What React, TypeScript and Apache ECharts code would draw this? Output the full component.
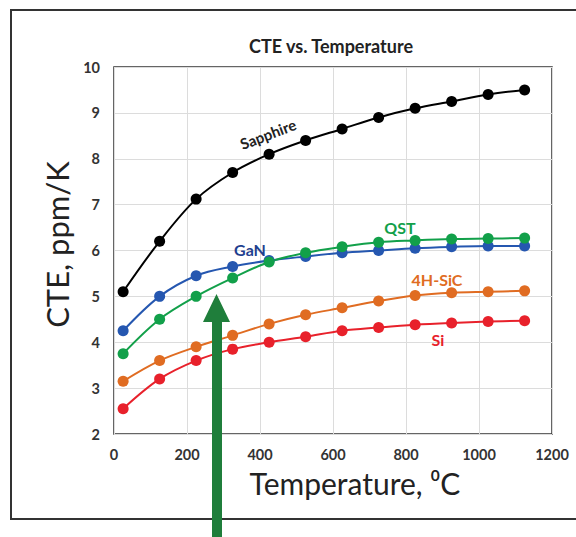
import React, { useEffect, useRef } from "react";
import * as echarts from "echarts";

const temperatures = [25, 125, 225, 325, 425, 525, 625, 725, 825, 925, 1025, 1125];
const sapphire = [5.1, 6.2, 7.12, 7.7, 8.1, 8.4, 8.65, 8.9, 9.1, 9.25, 9.4, 9.5];
const gan = [4.25, 5.0, 5.45, 5.65, 5.78, 5.87, 5.95, 6.0, 6.05, 6.08, 6.1, 6.1];
const qst = [3.75, 4.5, 5.0, 5.4, 5.75, 5.95, 6.08, 6.18, 6.22, 6.25, 6.26, 6.27];
const sic4h = [3.15, 3.6, 3.9, 4.15, 4.4, 4.6, 4.75, 4.9, 5.02, 5.08, 5.1, 5.12];
const si = [2.55, 3.2, 3.6, 3.85, 4.0, 4.12, 4.25, 4.32, 4.38, 4.42, 4.45, 4.47];

const seriesNames = ["Sapphire", "GaN", "QST", "4H-SiC", "Si"];
const seriesValues = [sapphire, gan, qst, sic4h, si];
const seriesColors = ["#000000", "#2557b0", "#12a04a", "#e06c22", "#e8212b"];
const labelColors = ["#222222", "#1f3f8f", "#12a04a", "#e06c22", "#e8212b"];

const FONT = "Lato, 'Noto Sans', sans-serif";

export default function App() {
  const ref = useRef<HTMLDivElement>(null);
  useEffect(() => {
    if (!ref.current) return;
    const chart = echarts.init(ref.current, undefined, { renderer: "svg" });
    const series = seriesNames.map((name, i) => ({
      name,
      type: "line",
      data: temperatures.map((t, j) => [t, seriesValues[i][j]]),
      smooth: 0.35,
      symbol: "circle",
      symbolSize: 11,
      lineStyle: { color: seriesColors[i], width: 2 },
      itemStyle: { color: seriesColors[i] },
      z: 3,
    }));
    const labelText = (text: string, x: number, y: number, color: string, rotation = 0, size = 15) => ({
      type: "text",
      x,
      y,
      rotation,
      z: 10,
      style: {
        text,
        fill: color,
        font: `bold ${size}px ${FONT}`,
        align: "center",
        verticalAlign: "middle",
      },
    });
    chart.setOption({
      animation: false,
      backgroundColor: "#ffffff",
      title: {
        text: "CTE vs. Temperature",
        left: 326,
        top: 32,
        textAlign: "center",
        textStyle: { fontFamily: FONT, fontWeight: "bold", fontSize: 18, color: "#222" },
      },
      grid: {
        left: 114,
        right: 24,
        top: 67,
        bottom: 103,
        show: true,
        borderColor: "#333",
        borderWidth: 1.5,
      },
      xAxis: {
        type: "value",
        min: 0,
        max: 1200,
        interval: 200,
        name: "Temperature, \u2070C",
        nameLocation: "middle",
        nameGap: 34,
        nameTextStyle: {
          fontFamily: FONT,
          fontSize: 30,
          color: "#222",
          verticalAlign: "top",
          padding: [0, 0, 0, 44],
        },
        axisLine: { show: false },
        axisTick: { show: false },
        axisLabel: {
          margin: 13,
          fontFamily: FONT,
          fontWeight: "bold",
          fontSize: 14.5,
          color: "#333",
          formatter: (v: number) => String(v),
        },
        splitLine: { show: true, lineStyle: { color: "#dcdcdc", width: 1 } },
      },
      yAxis: {
        type: "value",
        min: 2,
        max: 10,
        interval: 1,
        name: "CTE, ppm/K",
        nameLocation: "middle",
        nameGap: 36,
        nameTextStyle: { fontFamily: FONT, fontSize: 31, color: "#222", padding: [0, 0, 0, 12] },
        axisLine: { show: false },
        axisTick: { show: false },
        axisLabel: { margin: 14, fontFamily: FONT, fontWeight: "bold", fontSize: 14.5, color: "#333" },
        splitLine: { show: true, lineStyle: { color: "#dcdcdc", width: 1 } },
      },
      series,
      graphic: [
        {
          type: "rect",
          shape: { x: 11, y: 10, width: 600, height: 509 },
          style: { fill: "none", stroke: "#333", lineWidth: 2 },
          z: 1,
          silent: true,
        },
        labelText("Sapphire", 268, 134, labelColors[0], (21 * Math.PI) / 180, 15),
        labelText("GaN", 250, 249, labelColors[1], 0, 16),
        labelText("QST", 400, 227, labelColors[2], 0, 16),
        labelText("4H-SiC", 437, 279, labelColors[3], 0, 16),
        labelText("Si", 438, 339, labelColors[4], 0, 16),
        {
          type: "polygon",
          z: 20,
          shape: {
            points: [
              [216.5, 294],
              [230, 322],
              [222, 322],
              [222, 540],
              [212, 540],
              [212, 322],
              [203, 322],
            ],
          },
          style: { fill: "#1f7e3b" },
        },
      ],
    });
    return () => chart.dispose();
  }, []);
  return (
    <div
      ref={ref}
      style={{ position: "fixed", left: 0, top: 0, width: 576, height: 537 }}
    />
  );
}
